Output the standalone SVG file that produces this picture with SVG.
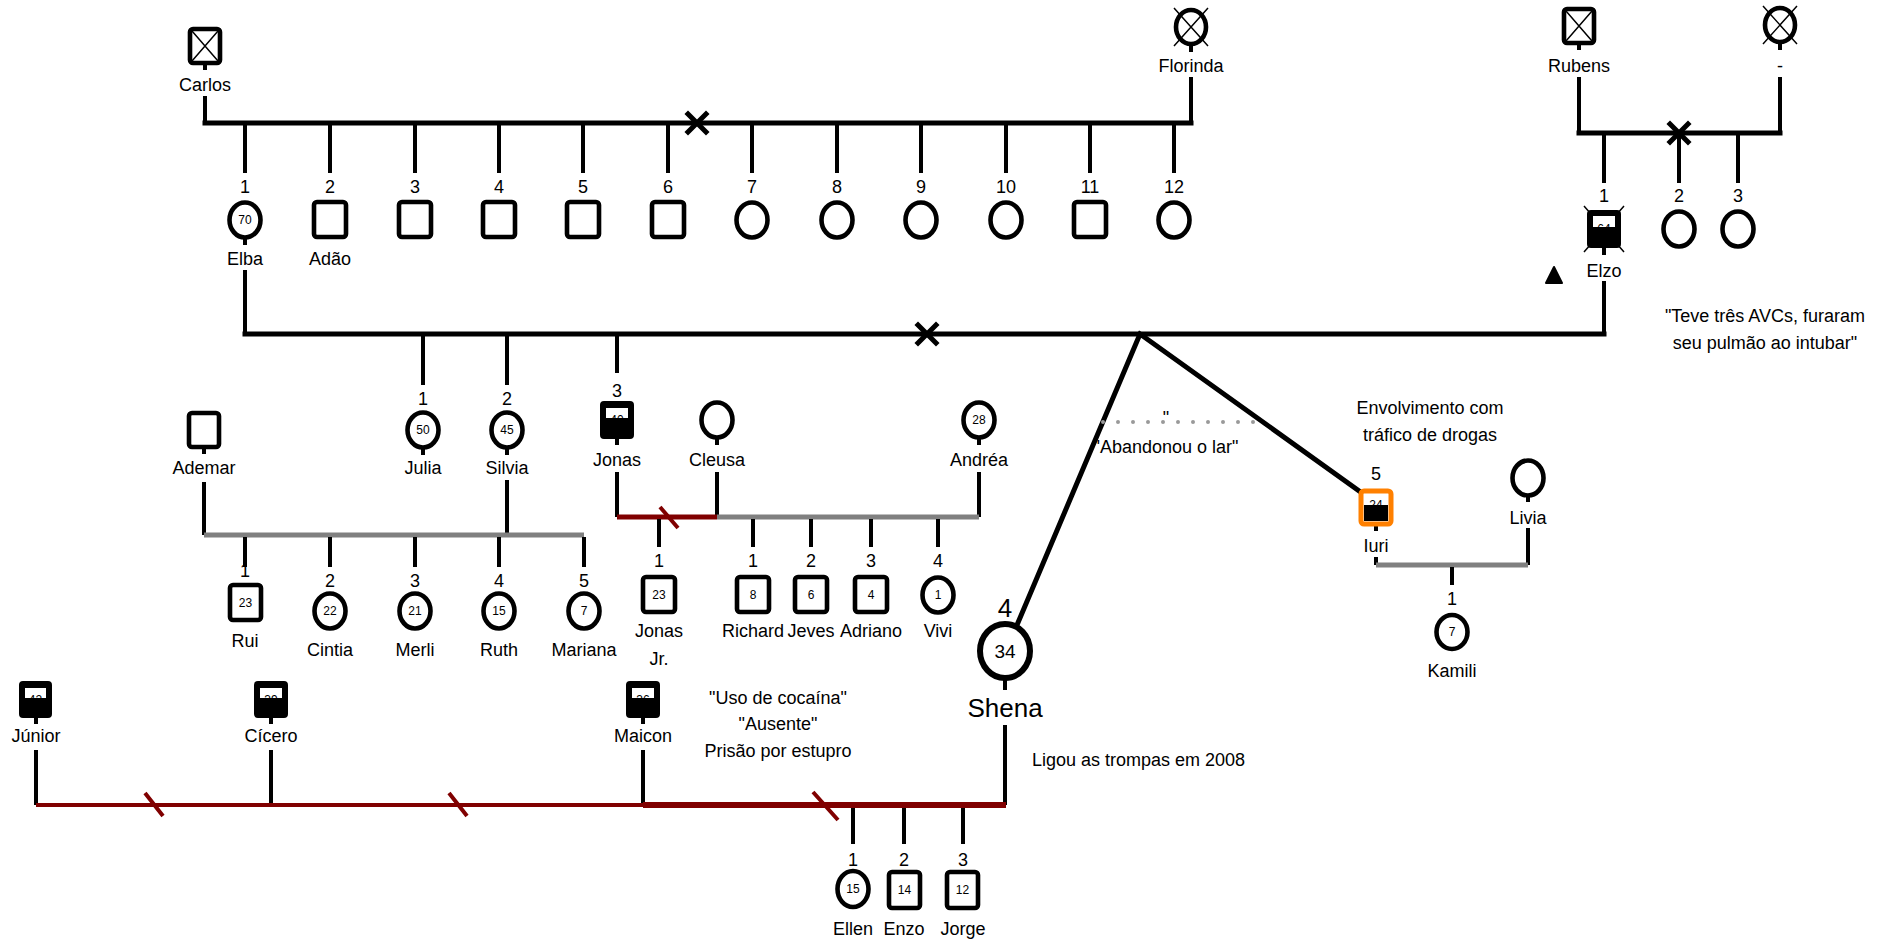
<svg xmlns="http://www.w3.org/2000/svg" width="1892" height="942" viewBox="0 0 1892 942">
<style>
.bg{fill:#fff}
.ln{stroke:#000;stroke-width:4;fill:none}
.mar{stroke:#000;stroke-width:5;fill:none;stroke-linecap:square}
.gr{stroke:#808080;stroke-width:5;fill:none}
.rd{stroke:#800000;stroke-width:5;fill:none}
.rs{stroke:#800000;stroke-width:4;fill:none}
.dot{stroke:#999;stroke-width:4;fill:none;stroke-linecap:round;stroke-dasharray:0 15}
.sym{fill:#fff;stroke:#000;stroke-width:4.6}
.blk{fill:#000;stroke:#000;stroke-width:2}
.win{fill:#fff}
.thin{stroke:#000;stroke-width:1.5;fill:none}
.t{font-family:"Liberation Sans",Arial,sans-serif;font-size:18px;text-anchor:middle;fill:#000}
.n{font-size:12px}
</style>
<rect class="bg" x="0" y="0" width="1892" height="942"/>
<g id="connectors">
  <path class="ln" d="M205,63V70M205,96V123M1191,45V52M1191,77V123"/>
  <path class="mar" d="M205,123H1191"/>
  <path class="mar" d="M688,114L706,132M706,114L688,132"/>
  <path class="ln" d="M245,123V173M330,123V173M415,123V173M499,123V173M583,123V173M668,123V173M752,123V173M837,123V173M921,123V173M1006,123V173M1090,123V173M1174,123V173"/>
  <path class="ln" d="M1579,43V50M1579,77V133M1780,43V50M1780,77V133"/>
  <path class="mar" d="M1579,133H1780"/>
  <path class="mar" d="M1670,124L1688,142M1688,124L1670,142"/>
  <path class="ln" d="M1604,133V183M1679,133V183M1738,133V183"/>
  <path class="ln" d="M245,238V245M245,270V334M1604,248V255M1604,281V334"/>
  <path class="mar" d="M245,334H1604"/>
  <path class="mar" d="M918,325L936,343M936,325L918,343"/>
  <path class="ln" d="M423,334V385M507,334V385M617,334V373"/>
  <path class="mar" d="M1140,334L1017,625M1140,334L1362,493"/>
  <path class="dot" d="M1103,422H1262"/>
  <path class="ln" d="M423,448V455M507,448V455M507,480V535M204,447V454M204,482V535"/>
  <path class="gr" d="M204,535H584"/>
  <path class="ln" d="M245,537V567M330,537V567M415,537V567M499,537V567M584,537V567"/>
  <path class="ln" d="M617,438V445M617,472V517M717,438V445M717,472V517M979,438V445M979,472V517"/>
  <path class="rd" d="M617,517H717"/>
  <path class="rs" d="M660,507L678,528"/>
  <path class="gr" d="M717,517H979"/>
  <path class="ln" d="M659,519V547M753,519V547M811,519V547M871,519V547M938,519V547"/>
  <path class="ln" d="M1376,526V531M1376,557V565M1528,496V502M1528,528V565"/>
  <path class="gr" d="M1376,565H1528"/>
  <path class="ln" d="M1452,567V585"/>
  <path class="ln" d="M1005,678V690M1005,725V805"/>
  <path class="ln" d="M36,717V724M36,750V805M271,717V724M271,750V805M643,717V724M643,750V805"/>
  <path class="rs" d="M36,805H643"/>
  <path class="rd" d="M643,805H1006" style="stroke-width:6"/>
  <path class="rs" d="M145,793L163,816M449,793L467,816M813,792L838,820"/>
  <path class="ln" d="M853,808V844M904,808V844M963,808V844"/>
</g>

<g id="carlos">
  <rect class="sym" x="190" y="29" width="30" height="34" rx="3"/>
  <path class="thin" d="M192,31L218,61M218,31L192,61"/>
  <text class="t" x="205" y="91">Carlos</text>
</g>
<g id="florinda">
  <path class="thin" d="M1174,8L1208,46M1208,8L1174,46"/>
  <ellipse class="sym" cx="1191" cy="27" rx="15" ry="17" style="fill:none"/>
  <text class="t" x="1191" y="72">Florinda</text>
</g>
<g id="elba">
  <text class="t" x="245" y="193">1</text>
  <ellipse class="sym" cx="245" cy="220" rx="15.5" ry="17.5"/>
  <text class="t n" x="245" y="224">70</text>
  <text class="t" x="245" y="265">Elba</text>
</g>
<g id="adao">
  <text class="t" x="330" y="193">2</text>
  <rect class="sym" x="314" y="202" width="32" height="35" rx="3"/>
  <text class="t" x="330" y="265">Adão</text>
</g>
<g id="irmao3"><text class="t" x="415" y="193">3</text><rect class="sym" x="399" y="202" width="32" height="35" rx="3"/></g>
<g id="irmao4"><text class="t" x="499" y="193">4</text><rect class="sym" x="483" y="202" width="32" height="35" rx="3"/></g>
<g id="irmao5"><text class="t" x="583" y="193">5</text><rect class="sym" x="567" y="202" width="32" height="35" rx="3"/></g>
<g id="irmao6"><text class="t" x="668" y="193">6</text><rect class="sym" x="652" y="202" width="32" height="35" rx="3"/></g>
<g id="irma7"><text class="t" x="752" y="193">7</text><ellipse class="sym" cx="752" cy="220" rx="15.5" ry="17.5"/></g>
<g id="irma8"><text class="t" x="837" y="193">8</text><ellipse class="sym" cx="837" cy="220" rx="15.5" ry="17.5"/></g>
<g id="irma9"><text class="t" x="921" y="193">9</text><ellipse class="sym" cx="921" cy="220" rx="15.5" ry="17.5"/></g>
<g id="irma10"><text class="t" x="1006" y="193">10</text><ellipse class="sym" cx="1006" cy="220" rx="15.5" ry="17.5"/></g>
<g id="irmao11"><text class="t" x="1090" y="193">11</text><rect class="sym" x="1074" y="202" width="32" height="35" rx="3"/></g>
<g id="irma12"><text class="t" x="1174" y="193">12</text><ellipse class="sym" cx="1174" cy="220" rx="15.5" ry="17.5"/></g>

<g id="rubens">
  <rect class="sym" x="1564" y="9" width="30" height="34" rx="3"/>
  <path class="thin" d="M1566,11L1592,41M1592,11L1566,41"/>
  <text class="t" x="1579" y="72">Rubens</text>
</g>
<g id="esposa-rubens">
  <path class="thin" d="M1763,6L1797,44M1797,6L1763,44"/>
  <ellipse class="sym" cx="1780" cy="25" rx="15" ry="17" style="fill:none"/>
  <text class="t" x="1780" y="72">-</text>
</g>
<g id="elzo">
  <text class="t" x="1604" y="202">1</text>
  <path class="thin" d="M1584,206L1624,252M1624,206L1584,252"/>
  <rect class="blk" x="1588" y="211" width="32" height="36" rx="3"/>
  <rect class="win" x="1593" y="216" width="22" height="12"/>
  <text class="t n" x="1604" y="233">64</text>
  <rect class="blk" x="1590" y="228" width="28" height="17"/>
  <text class="t" x="1604" y="277">Elzo</text>
</g>
<g id="elzo-irma2"><text class="t" x="1679" y="202">2</text><ellipse class="sym" cx="1679" cy="229" rx="15.5" ry="17.5"/></g>
<g id="elzo-irma3"><text class="t" x="1738" y="202">3</text><ellipse class="sym" cx="1738" cy="229" rx="15.5" ry="17.5"/></g>
<g id="gestacao">
  <path d="M1546,283L1554,267L1562,283Z" fill="#000" stroke="#000" stroke-width="2" stroke-linejoin="round"/>
</g>
<g id="nota-elzo">
  <text class="t" x="1765" y="322">"Teve três AVCs, furaram</text>
  <text class="t" x="1765" y="349">seu pulmão ao intubar"</text>
</g>

<g id="julia">
  <text class="t" x="423" y="405">1</text>
  <ellipse class="sym" cx="423" cy="430" rx="15.5" ry="17.5"/>
  <text class="t n" x="423" y="434">50</text>
  <text class="t" x="423" y="474">Julia</text>
</g>
<g id="silvia">
  <text class="t" x="507" y="405">2</text>
  <ellipse class="sym" cx="507" cy="430" rx="15.5" ry="17.5"/>
  <text class="t n" x="507" y="434">45</text>
  <text class="t" x="507" y="474">Silvia</text>
</g>
<g id="ademar">
  <rect class="sym" x="189" y="413" width="30" height="34" rx="3"/>
  <text class="t" x="204" y="474">Ademar</text>
</g>
<g id="rui">
  <text class="t" x="245" y="577">1</text>
  <rect class="sym" x="230" y="585" width="31" height="35" rx="3"/>
  <text class="t n" x="245.5" y="607">23</text>
  <text class="t" x="245" y="647">Rui</text>
</g>
<g id="cintia">
  <text class="t" x="330" y="587">2</text>
  <ellipse class="sym" cx="330" cy="611" rx="15.5" ry="17.5"/>
  <text class="t n" x="330" y="615">22</text>
  <text class="t" x="330" y="656">Cintia</text>
</g>
<g id="merli">
  <text class="t" x="415" y="587">3</text>
  <ellipse class="sym" cx="415" cy="611" rx="15.5" ry="17.5"/>
  <text class="t n" x="415" y="615">21</text>
  <text class="t" x="415" y="656">Merli</text>
</g>
<g id="ruth">
  <text class="t" x="499" y="587">4</text>
  <ellipse class="sym" cx="499" cy="611" rx="15.5" ry="17.5"/>
  <text class="t n" x="499" y="615">15</text>
  <text class="t" x="499" y="656">Ruth</text>
</g>
<g id="mariana">
  <text class="t" x="584" y="587">5</text>
  <ellipse class="sym" cx="584" cy="611" rx="15.5" ry="17.5"/>
  <text class="t n" x="584" y="615">7</text>
  <text class="t" x="584" y="656">Mariana</text>
</g>

<g id="jonas">
  <text class="t" x="617" y="397">3</text>
  <rect class="blk" x="601" y="402" width="32" height="36" rx="3"/>
  <rect class="win" x="606" y="408" width="22" height="11"/>
  <text class="t n" x="617" y="424">40</text>
  <rect class="blk" x="603" y="419" width="28" height="17"/>
  <text class="t" x="617" y="466">Jonas</text>
</g>
<g id="cleusa">
  <ellipse class="sym" cx="717" cy="420" rx="15.5" ry="17.5"/>
  <text class="t" x="717" y="466">Cleusa</text>
</g>
<g id="andrea">
  <ellipse class="sym" cx="979" cy="420" rx="15.5" ry="17.5"/>
  <text class="t n" x="979" y="424">28</text>
  <text class="t" x="979" y="466">Andréa</text>
</g>
<g id="jonas-jr">
  <text class="t" x="659" y="567">1</text>
  <rect class="sym" x="643" y="577" width="32" height="35" rx="3"/>
  <text class="t n" x="659" y="599">23</text>
  <text class="t" x="659" y="637">Jonas</text>
  <text class="t" x="659" y="665">Jr.</text>
</g>
<g id="richard">
  <text class="t" x="753" y="567">1</text>
  <rect class="sym" x="737" y="577" width="32" height="35" rx="3"/>
  <text class="t n" x="753" y="599">8</text>
  <text class="t" x="753" y="637">Richard</text>
</g>
<g id="jeves">
  <text class="t" x="811" y="567">2</text>
  <rect class="sym" x="795" y="577" width="32" height="35" rx="3"/>
  <text class="t n" x="811" y="599">6</text>
  <text class="t" x="811" y="637">Jeves</text>
</g>
<g id="adriano">
  <text class="t" x="871" y="567">3</text>
  <rect class="sym" x="855" y="577" width="32" height="35" rx="3"/>
  <text class="t n" x="871" y="599">4</text>
  <text class="t" x="871" y="637">Adriano</text>
</g>
<g id="vivi">
  <text class="t" x="938" y="567">4</text>
  <ellipse class="sym" cx="938" cy="595" rx="15.5" ry="17.5"/>
  <text class="t n" x="938" y="599">1</text>
  <text class="t" x="938" y="637">Vivi</text>
</g>

<g id="nota-abandono">
  <text class="t" x="1166" y="424">"</text>
  <text class="t" x="1166" y="453">"Abandonou o lar"</text>
</g>
<g id="nota-iuri">
  <text class="t" x="1430" y="414">Envolvimento com</text>
  <text class="t" x="1430" y="441">tráfico de drogas</text>
</g>
<g id="iuri">
  <text class="t" x="1376" y="480">5</text>
  <rect x="1361" y="491" width="30" height="33" rx="3" fill="#fff" stroke="#ff8000" stroke-width="5"/>
  <text class="t n" x="1376" y="509">24</text>
  <rect x="1364" y="505" width="24" height="16" fill="#000"/>
  <text class="t" x="1376" y="552">Iuri</text>
</g>
<g id="livia">
  <ellipse class="sym" cx="1528" cy="478" rx="15.5" ry="17.5"/>
  <text class="t" x="1528" y="524">Livia</text>
</g>
<g id="kamili">
  <text class="t" x="1452" y="605">1</text>
  <ellipse class="sym" cx="1452" cy="632" rx="15.5" ry="17"/>
  <text class="t n" x="1452" y="636">7</text>
  <text class="t" x="1452" y="677">Kamili</text>
</g>

<g id="shena">
  <text class="t" x="1005" y="617" style="font-size:26px">4</text>
  <ellipse class="sym" cx="1005" cy="651" rx="25" ry="27" style="stroke-width:6"/>
  <text class="t" x="1005" y="658" style="font-size:19px">34</text>
  <text class="t" x="1005" y="717" style="font-size:26px">Shena</text>
</g>
<g id="nota-shena">
  <text class="t" x="1032" y="766" style="text-anchor:start">Ligou as trompas em 2008</text>
</g>

<g id="junior">
  <rect class="blk" x="20" y="682" width="31" height="35" rx="3"/>
  <rect class="win" x="25" y="688" width="21" height="11"/>
  <text class="t n" x="35.5" y="704">42</text>
  <rect class="blk" x="22" y="699" width="27" height="16"/>
  <text class="t" x="36" y="742">Júnior</text>
</g>
<g id="cicero">
  <rect class="blk" x="255" y="682" width="32" height="35" rx="3"/>
  <rect class="win" x="260" y="688" width="22" height="11"/>
  <text class="t n" x="271" y="704">39</text>
  <rect class="blk" x="257" y="699" width="28" height="16"/>
  <text class="t" x="271" y="742">Cícero</text>
</g>
<g id="maicon">
  <rect class="blk" x="627" y="682" width="32" height="35" rx="3"/>
  <rect class="win" x="632" y="688" width="22" height="11"/>
  <text class="t n" x="643" y="704">36</text>
  <rect class="blk" x="629" y="699" width="28" height="16"/>
  <text class="t" x="643" y="742">Maicon</text>
</g>
<g id="nota-maicon">
  <text class="t" x="778" y="704">"Uso de cocaína"</text>
  <text class="t" x="778" y="730">"Ausente"</text>
  <text class="t" x="778" y="757">Prisão por estupro</text>
</g>
<g id="ellen">
  <text class="t" x="853" y="866">1</text>
  <ellipse class="sym" cx="853" cy="889" rx="15.5" ry="18"/>
  <text class="t n" x="853" y="893">15</text>
  <text class="t" x="853" y="935">Ellen</text>
</g>
<g id="enzo">
  <text class="t" x="904" y="866">2</text>
  <rect class="sym" x="889" y="872" width="31" height="36" rx="3"/>
  <text class="t n" x="904.5" y="894">14</text>
  <text class="t" x="904" y="935">Enzo</text>
</g>
<g id="jorge">
  <text class="t" x="963" y="866">3</text>
  <rect class="sym" x="947" y="872" width="31" height="36" rx="3"/>
  <text class="t n" x="962.5" y="894">12</text>
  <text class="t" x="963" y="935">Jorge</text>
</g>
</svg>
